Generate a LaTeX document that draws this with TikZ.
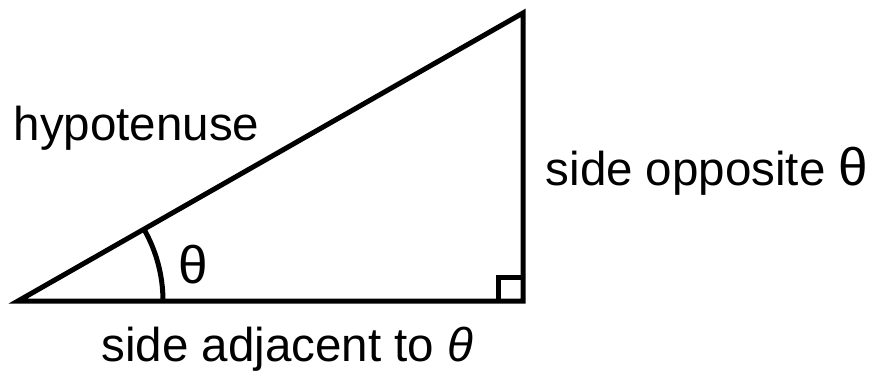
\documentclass[tikz,border=0pt]{standalone}
\usepackage{fontspec}
\setmainfont{Liberation Sans}
\usetikzlibrary{calc}
\newcommand{\bigth}{{\fontsize{53}{60}\selectfont θ}}
\begin{document}
\begin{tikzpicture}[x=1pt,y=-1pt,
  edge/.style={line width=5pt},
  lbl/.style={inner sep=0pt,anchor=base,font=\fontsize{47.5}{55}\selectfont}]
\useasboundingbox (0,0) rectangle (875,373);
\coordinate (A) at (18,301);
\coordinate (B) at (523,301);
\coordinate (C) at (523,13);
\draw[edge] (A) -- (B) -- (C) -- cycle;
\draw[edge] (498,301) -- (498,277) -- (523,277);
\draw[edge] ($(A)+(145,0)$) arc[start angle=0,end angle=-29.7,radius=145];
\node[lbl] (hyp) at (136.5,140) {hypotenuse};
\node[lbl] (opp) at (707,185) {side opposite \bigth};
\node[lbl] (ang) at (193.5,283) {\bigth};
\node[lbl] (adj) at (287.5,361) {side adjacent to \textit{θ}};
\end{tikzpicture}
\end{document}
